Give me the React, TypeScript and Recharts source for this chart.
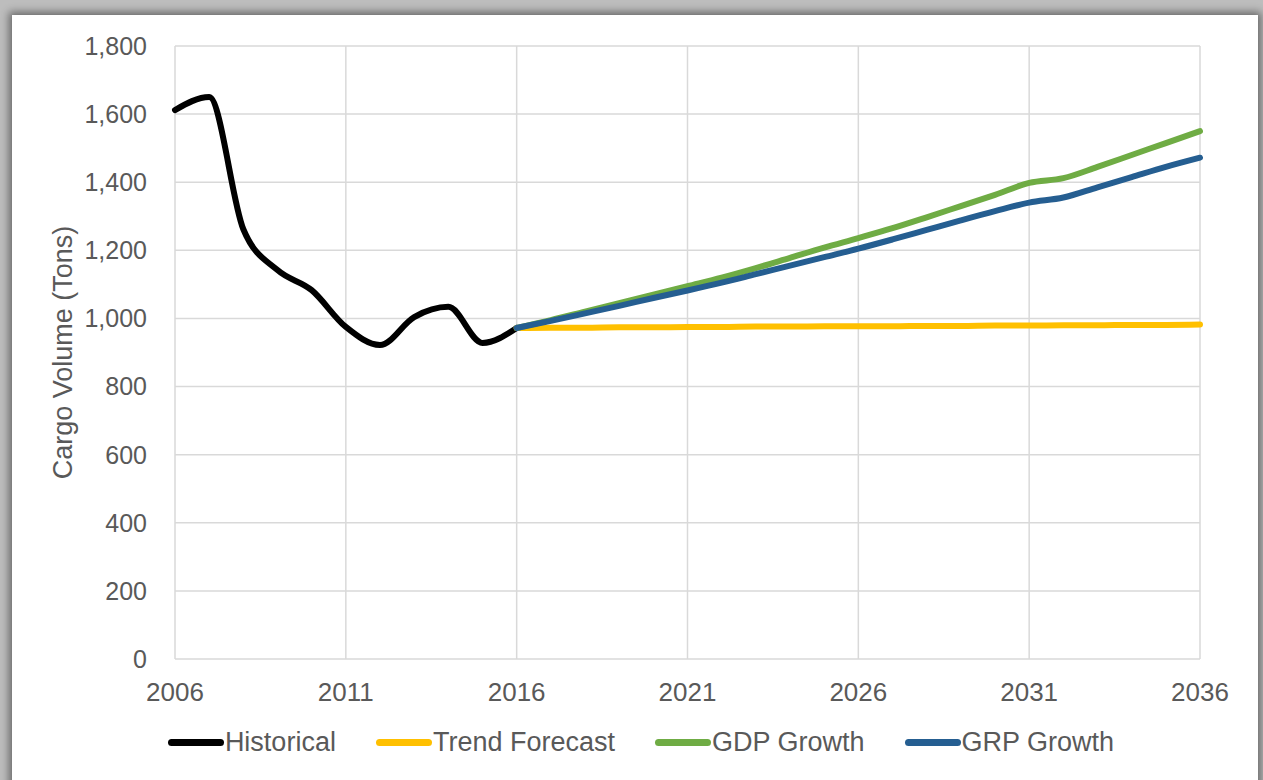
import React from 'react';
import { LineChart, Line, XAxis, YAxis, CartesianGrid, Legend } from 'recharts';

const historicalYears = [2006, 2007, 2008, 2009, 2010, 2011, 2012, 2013, 2014, 2015, 2016];
const historical = [1612, 1650, 1262, 1142, 1083, 975, 922, 1004, 1034, 928, 972];

const forecastYears = [
  2016, 2017, 2018, 2019, 2020, 2021, 2022, 2023, 2024, 2025, 2026,
  2027, 2028, 2029, 2030, 2031, 2032, 2033, 2034, 2035, 2036,
];
const trendForecast = [972, 973, 973, 974, 974, 975, 975, 976, 976, 977, 977, 977, 978, 978, 979, 979, 980, 980, 981, 981, 982];
const gdpGrowth = [972, 995, 1020, 1045, 1070, 1095, 1120, 1148, 1178, 1208, 1236, 1265, 1297, 1330, 1363, 1398, 1412, 1445, 1480, 1515, 1550];
const grpGrowth = [972, 993, 1015, 1037, 1060, 1082, 1105, 1130, 1155, 1180, 1205, 1232, 1260, 1288, 1315, 1340, 1355, 1385, 1415, 1445, 1472];

const xTicks = [2006, 2011, 2016, 2021, 2026, 2031, 2036];
const yTicks = [0, 200, 400, 600, 800, 1000, 1200, 1400, 1600, 1800];

const series = [
  { key: 'historical', name: 'Historical', color: '#000000' },
  { key: 'trend', name: 'Trend Forecast', color: '#FFC000' },
  { key: 'gdp', name: 'GDP Growth', color: '#6FAC44' },
  { key: 'grp', name: 'GRP Growth', color: '#255E91' },
];

const allYears: number[] = [];
for (let y = 2006; y <= 2036; y++) allYears.push(y);

const data = allYears.map((year) => {
  const row: Record<string, number | undefined> = { year };
  const hi = historicalYears.indexOf(year);
  if (hi >= 0) row.historical = historical[hi];
  const fi = forecastYears.indexOf(year);
  if (fi >= 0) {
    row.trend = trendForecast[fi];
    row.gdp = gdpGrowth[fi];
    row.grp = grpGrowth[fi];
  }
  return row;
});

const font = 'Arial, "Liberation Sans", sans-serif';
const textColor = '#595959';

const LegendContent = () => (
  <div style={{ display: 'flex', justifyContent: 'center', alignItems: 'center', gap: 40, paddingLeft: 70, fontFamily: font, fontSize: 27, color: textColor }}>
    {series.map((s) => (
      <div key={s.key} style={{ display: 'flex', alignItems: 'center' }}>
        <span style={{ display: 'inline-block', width: 56, height: 7, borderRadius: 4, background: s.color, marginRight: 1 }} />
        <span>{s.name}</span>
      </div>
    ))}
  </div>
);

const App = () => {
  return (
    <div style={{ position: 'fixed', left: 0, top: 0, width: 1263, height: 780, background: '#bdbdbd', overflow: 'hidden' }}>
      <div
        style={{
          position: 'absolute',
          left: 12,
          top: 15,
          width: 1246,
          height: 780,
          background: '#ffffff',
          boxShadow: '0 0 8px 3px rgba(0,0,0,0.45)',
        }}
      >
        <LineChart width={1246} height={765} data={data} margin={{ top: 31, right: 58, left: 0, bottom: 13 }}>
          <CartesianGrid stroke="#d9d9d9" strokeWidth={1.5} />
          <XAxis
            dataKey="year"
            type="number"
            domain={[2006, 2036]}
            ticks={xTicks}
            axisLine={false}
            tickLine={false}
            height={68}
            tickMargin={18}
            tick={{ fill: textColor, fontSize: 26, fontFamily: font }}
          />
          <YAxis
            domain={[0, 1800]}
            ticks={yTicks}
            width={163}
            axisLine={false}
            tickLine={false}
            tickMargin={22}
            tickFormatter={(v: number) => v.toLocaleString('en-US')}
            tick={{ fill: textColor, fontSize: 25, fontFamily: font }}
            label={{
              value: 'Cargo Volume (Tons)',
              angle: -90,
              position: 'insideLeft',
              offset: 50,
              style: { textAnchor: 'middle', fill: textColor, fontSize: 27, fontFamily: font },
            }}
          />
          <Legend verticalAlign="bottom" height={40} content={<LegendContent />} />
          {series.map((s) => (
            <Line
              key={s.key}
              type="monotone"
              dataKey={s.key}
              name={s.name}
              stroke={s.color}
              strokeWidth={6}
              dot={false}
              activeDot={false}
              strokeLinecap="round"
              isAnimationActive={false}
            />
          ))}
        </LineChart>
      </div>
    </div>
  );
};

export default App;
